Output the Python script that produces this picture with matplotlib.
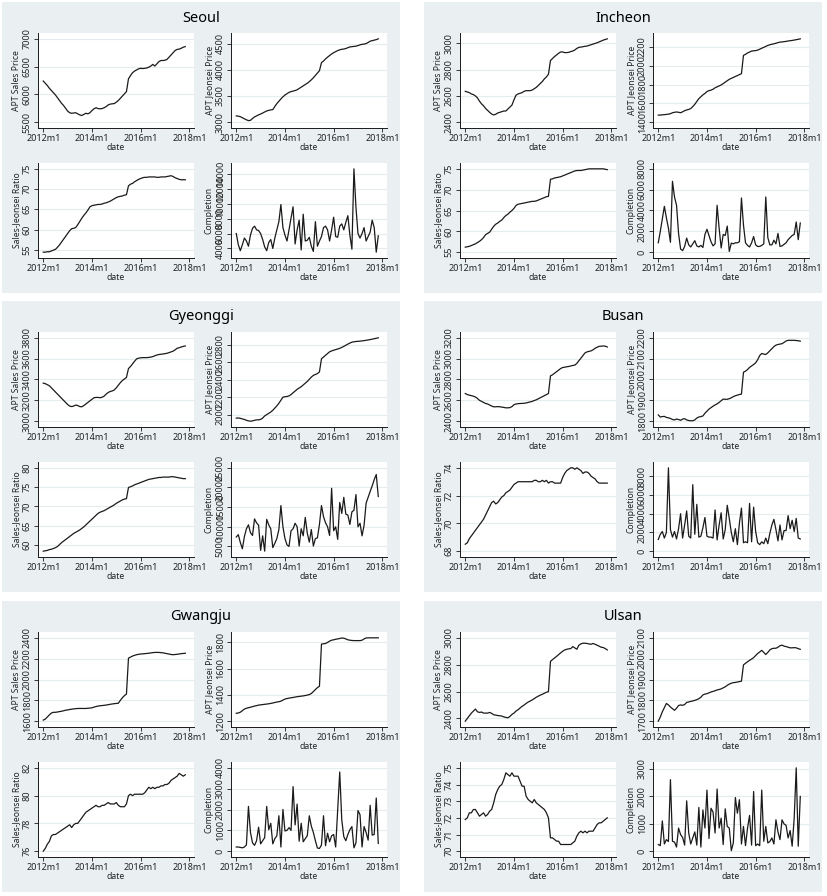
import numpy as np
import matplotlib.pyplot as plt
from matplotlib.patches import Rectangle

plt.rcParams['font.family'] = ['Noto Sans', 'DejaVu Sans']

# monthly data, 2012m1 .. 2017m11
months = np.arange(71)
tick_months = [0, 24, 48, 72]
tick_labels = ["2012m1", "2014m1", "2016m1", "2018m1"]
regions = ["Seoul", "Incheon", "Gyeonggi", "Busan", "Gwangju", "Ulsan"]
ylabels = ["APT Sales Price", "APT Jeonsei Price", "Sales-Jeonsei Ratio", "Completion"]

seoul_sales = [6240, 6200, 6160, 6110, 6070, 6030, 5990, 5940, 5890, 5840,
               5800, 5750, 5700, 5670, 5660, 5665, 5670, 5650, 5630, 5620,
               5640, 5660, 5650, 5670, 5710, 5740, 5760, 5745, 5740, 5745,
               5760, 5780, 5810, 5825, 5830, 5835, 5860, 5890, 5930, 5970,
               6010, 6050, 6280, 6340, 6390, 6420, 6440, 6460, 6470, 6465,
               6470, 6475, 6490, 6510, 6540, 6510, 6550, 6590, 6610, 6610,
               6615, 6630, 6670, 6710, 6750, 6790, 6810, 6815, 6830, 6850,
               6860]
seoul_jeonse = [3120, 3115, 3105, 3085, 3065, 3045, 3030, 3035, 3070, 3100,
                3120, 3140, 3155, 3175, 3195, 3215, 3225, 3235, 3240, 3300,
                3355, 3400, 3445, 3485, 3520, 3545, 3570, 3585, 3595, 3605,
                3620, 3645, 3670, 3695, 3720, 3745, 3775, 3810, 3850, 3895,
                3940, 3985, 4140, 4170, 4210, 4245, 4275, 4305, 4330, 4350,
                4370, 4385, 4395, 4400, 4410, 4425, 4440, 4445, 4450, 4455,
                4465, 4480, 4490, 4495, 4505, 4525, 4550, 4560, 4570, 4580,
                4595]
seoul_ratio = [54.4, 54.4, 54.5, 54.5, 54.7, 54.9, 55.1, 55.6, 56.2, 56.9,
               57.6, 58.3, 59.0, 59.7, 60.2, 60.3, 60.5, 61.2, 62.0, 62.8,
               63.5, 64.1, 64.8, 65.6, 65.9, 66.0, 66.1, 66.2, 66.2, 66.3,
               66.5, 66.6, 66.8, 67.0, 67.3, 67.6, 67.9, 68.1, 68.2, 68.3,
               68.5, 68.6, 70.8, 71.2, 71.4, 71.8, 72.1, 72.4, 72.6, 72.8,
               72.9, 72.9, 73.0, 73.0, 73.0, 73.0, 72.9, 72.9, 73.0, 73.0,
               73.0, 73.1, 73.2, 73.3, 73.1, 72.8, 72.6, 72.4, 72.3, 72.3,
               72.3]
seoul_compl = [6000, 4500, 3700, 4500, 5400, 5000, 4300, 5800, 6700, 7000,
               6500, 6400, 6000, 5200, 4200, 3700, 4800, 5200, 4000, 5400,
               6500, 7600, 9900, 6800, 5800, 5000, 6500, 8100, 9600, 4600,
               6500, 7800, 3800, 8600, 5000, 5100, 5500, 4300, 3600, 7600,
               4300, 5000, 5600, 6800, 7000, 6500, 5000, 6500, 8200, 5600,
               5500, 7000, 7300, 6500, 7500, 8400, 5800, 3900, 14700, 9500,
               6000, 5400, 6000, 6800, 5000, 5600, 6200, 7800, 6800, 3500,
               5700]

incheon_sales = [2635, 2630, 2625, 2615, 2610, 2600, 2585, 2560, 2540, 2525,
                 2505, 2490, 2475, 2462, 2455, 2460, 2470, 2475, 2480, 2485,
                 2485, 2500, 2515, 2530, 2570, 2605, 2615, 2620, 2625, 2635,
                 2640, 2640, 2640, 2645, 2655, 2665, 2680, 2695, 2710, 2730,
                 2745, 2765, 2870, 2885, 2900, 2912, 2925, 2935, 2935, 2930,
                 2930, 2932, 2938, 2942, 2950, 2962, 2970, 2972, 2975, 2978,
                 2980, 2985, 2990, 2995, 3000, 3005, 3012, 3018, 3025, 3030,
                 3035]
incheon_jeonse = [1475, 1475, 1478, 1480, 1482, 1485, 1490, 1500, 1505, 1508,
                  1505, 1500, 1510, 1522, 1530, 1535, 1545, 1565, 1590, 1620,
                  1650, 1670, 1690, 1705, 1725, 1735, 1740, 1750, 1765, 1775,
                  1785, 1795, 1810, 1825, 1840, 1855, 1865, 1875, 1885, 1895,
                  1905, 1915, 2110, 2120, 2135, 2145, 2155, 2158, 2160, 2165,
                  2175, 2185, 2195, 2205, 2215, 2222, 2228, 2232, 2238, 2245,
                  2250, 2252, 2255, 2258, 2262, 2265, 2268, 2272, 2276, 2280,
                  2285]
incheon_ratio = [56.2, 56.3, 56.4, 56.6, 56.8, 57.0, 57.3, 57.6, 58.0, 58.5,
                 59.2, 59.5, 59.8, 60.5, 61.2, 61.7, 62.0, 62.4, 62.7, 63.3,
                 63.8, 64.1, 64.6, 65.0, 65.5, 66.2, 66.5, 66.6, 66.7, 66.8,
                 66.9, 67.0, 67.1, 67.2, 67.2, 67.3, 67.5, 67.7, 67.9, 68.1,
                 68.3, 68.4, 72.5, 72.6, 72.8, 72.9, 73.0, 73.1, 73.3, 73.5,
                 73.7, 73.9, 74.1, 74.3, 74.5, 74.6, 74.6, 74.6, 74.7, 74.8,
                 74.9, 75.0, 75.0, 75.0, 75.0, 75.0, 75.0, 75.0, 75.0, 74.9,
                 74.8]
incheon_compl = [900, 2000, 3200, 4400, 3300, 2300, 950, 6800, 5300, 4500,
                 1800, 300, 150, 550, 1350, 700, 500, 800, 1100, 600,
                 500, 650, 450, 1700, 2200, 1600, 1000, 600, 800, 4500,
                 2300, 400, 1700, 1600, 2500, 70, 870, 800, 900, 900,
                 1000, 5200, 2600, 900, 650, 500, 900, 1500, 700, 550,
                 550, 650, 800, 5300, 1400, 700, 700, 1150, 800, 1800,
                 550, 600, 750, 900, 1200, 1400, 1600, 1700, 2900, 1200,
                 2800]

gyeonggi_sales = [3365, 3360, 3350, 3340, 3320, 3300, 3280, 3260, 3240, 3220,
                  3200, 3180, 3160, 3145, 3140, 3145, 3155, 3150, 3140, 3138,
                  3150, 3165, 3180, 3195, 3210, 3225, 3228, 3228, 3225, 3230,
                  3240, 3260, 3275, 3285, 3290, 3300, 3320, 3345, 3370, 3390,
                  3405, 3420, 3505, 3525, 3550, 3575, 3598, 3605, 3608, 3610,
                  3610, 3610, 3612, 3615, 3620, 3628, 3635, 3640, 3642, 3645,
                  3648, 3652, 3658, 3665, 3672, 3685, 3700, 3705, 3712, 3718,
                  3722]
gyeonggi_jeonse = [1960, 1962, 1958, 1950, 1945, 1935, 1928, 1925, 1928, 1935,
                   1940, 1940, 1945, 1960, 1985, 2000, 2015, 2030, 2050, 2075,
                   2100, 2130, 2165, 2200, 2205, 2208, 2215, 2230, 2250, 2270,
                   2290, 2305, 2320, 2340, 2360, 2380, 2405, 2430, 2450, 2460,
                   2470, 2490, 2640, 2660, 2680, 2700, 2720, 2730, 2738, 2745,
                   2752, 2760, 2770, 2782, 2795, 2808, 2820, 2830, 2835, 2838,
                   2840, 2842, 2845, 2848, 2852, 2856, 2860, 2865, 2870, 2875,
                   2880]
gyeonggi_ratio = [58.4, 58.5, 58.6, 58.8, 58.9, 59.1, 59.3, 59.6, 60.1, 60.6,
                  61.0, 61.4, 61.8, 62.2, 62.6, 63.0, 63.3, 63.6, 63.9, 64.3,
                  64.7, 65.2, 65.7, 66.2, 66.7, 67.2, 67.7, 68.2, 68.5, 68.7,
                  68.9, 69.2, 69.5, 69.8, 70.1, 70.4, 70.8, 71.1, 71.4, 71.7,
                  71.9, 72.0, 74.9, 75.1, 75.3, 75.6, 75.8, 76.0, 76.2, 76.4,
                  76.6, 76.8, 77.0, 77.1, 77.2, 77.3, 77.4, 77.5, 77.5, 77.6,
                  77.6, 77.6, 77.6, 77.7, 77.7, 77.6, 77.5, 77.4, 77.3, 77.2,
                  77.2]
gyeonggi_compl = [7400, 8000, 6000, 4400, 7500, 9500, 10500, 8500, 7800, 12000,
                  11000, 10400, 4000, 7700, 3800, 11900, 10500, 9500, 4700, 5800,
                  7000, 9300, 15400, 10000, 7000, 5400, 5000, 9000, 9500, 10900,
                  10000, 5100, 9500, 7700, 12400, 8400, 6100, 9300, 5100, 7000,
                  7200, 10600, 15400, 12600, 11000, 10000, 7800, 19800, 9000, 10000,
                  6800, 16200, 13400, 17500, 13200, 13000, 10600, 13800, 14200, 18200,
                  10000, 10900, 7700, 10400, 16000, 17500, 19000, 20400, 22000, 23300,
                  17700]

busan_sales = [2665, 2655, 2650, 2645, 2640, 2632, 2618, 2600, 2590, 2580,
               2570, 2565, 2555, 2545, 2538, 2538, 2540, 2538, 2535, 2532,
               2528, 2528, 2530, 2540, 2558, 2565, 2568, 2570, 2570, 2572,
               2575, 2580, 2585, 2590, 2598, 2605, 2615, 2625, 2635, 2645,
               2655, 2665, 2835, 2845, 2860, 2875, 2890, 2905, 2915, 2918,
               2922, 2925, 2930, 2935, 2938, 2955, 2980, 3005, 3030, 3055,
               3065, 3070, 3075, 3085, 3100, 3110, 3118, 3120, 3122, 3120,
               3112]
busan_jeonse = [1830, 1820, 1822, 1823, 1818, 1816, 1813, 1808, 1806, 1810,
                1808, 1804, 1810, 1812, 1806, 1803, 1802, 1802, 1806, 1815,
                1820, 1822, 1825, 1838, 1848, 1858, 1865, 1872, 1878, 1883,
                1890, 1898, 1906, 1905, 1905, 1908, 1912, 1918, 1922, 1925,
                1928, 1930, 2035, 2040, 2048, 2058, 2065, 2072, 2080, 2095,
                2115, 2125, 2122, 2120, 2128, 2138, 2148, 2158, 2165, 2168,
                2170, 2172, 2178, 2185, 2188, 2188, 2188, 2188, 2187, 2186,
                2184]
busan_ratio = [68.5, 68.6, 68.9, 69.1, 69.3, 69.5, 69.7, 69.9, 70.1, 70.3,
               70.6, 70.9, 71.2, 71.5, 71.6, 71.4, 71.5, 71.7, 71.9, 72.0,
               72.2, 72.3, 72.4, 72.6, 72.8, 72.9, 73.0, 73.0, 73.0, 73.0,
               73.0, 73.0, 73.0, 73.0, 73.1, 73.1, 73.0, 73.0, 73.1, 73.0,
               73.1, 72.9, 73.0, 73.0, 72.9, 72.9, 72.9, 72.9, 73.3, 73.6,
               73.8, 73.9, 74.0, 74.0, 73.9, 74.0, 73.9, 73.8, 73.6, 73.7,
               73.7, 73.6, 73.4, 73.3, 73.2, 73.0, 72.9, 72.9, 72.9, 72.9,
               72.9]
busan_compl = [1250, 1800, 2100, 1400, 2000, 8900, 2300, 1500, 2100, 1300,
               2400, 4000, 1400, 2800, 4300, 1600, 1400, 7100, 1800, 5000,
               1500, 1600, 2500, 3600, 1600, 1500, 1500, 1400, 4400, 1200,
               2800, 4100, 1300, 2300, 4900, 3500, 2000, 1000, 2400, 700,
               3000, 4600, 900, 1000, 900, 5100, 1000, 4700, 2100, 900,
               700, 1000, 800, 1400, 800, 1900, 2800, 3400, 2300, 1100,
               2800, 1200, 2200, 2200, 3800, 2400, 3300, 2100, 3500, 1400,
               1300]

gwangju_sales = [1610, 1620, 1640, 1660, 1678, 1685, 1685, 1688, 1692, 1695,
                 1700, 1705, 1708, 1712, 1715, 1718, 1720, 1722, 1722, 1722,
                 1722, 1722, 1724, 1726, 1728, 1735, 1740, 1745, 1748, 1750,
                 1752, 1755, 1758, 1762, 1765, 1768, 1770, 1772, 1800, 1825,
                 1845, 1860, 2205, 2215, 2225, 2232, 2238, 2242, 2245, 2246,
                 2248, 2250, 2252, 2255, 2258, 2260, 2260, 2260, 2258, 2256,
                 2252, 2248, 2244, 2240, 2238, 2240, 2242, 2245, 2248, 2250,
                 2252]
gwangju_jeonse = [1260, 1262, 1268, 1280, 1292, 1298, 1302, 1306, 1310, 1315,
                  1318, 1322, 1324, 1326, 1328, 1330, 1332, 1335, 1338, 1342,
                  1345, 1348, 1352, 1360, 1368, 1372, 1375, 1378, 1380, 1383,
                  1386, 1388, 1390, 1392, 1395, 1398, 1402, 1410, 1425, 1440,
                  1455, 1465, 1785, 1788, 1790, 1798, 1808, 1815, 1818, 1822,
                  1825, 1828, 1832, 1830, 1825, 1818, 1815, 1813, 1812, 1812,
                  1812, 1812, 1815, 1825, 1832, 1833, 1833, 1833, 1833, 1833,
                  1833]
gwangju_ratio = [76.0, 76.2, 76.5, 76.7, 77.1, 77.2, 77.2, 77.3, 77.4, 77.5,
                 77.6, 77.7, 77.8, 77.9, 77.7, 77.9, 78.0, 78.0, 78.2, 78.4,
                 78.6, 78.8, 78.9, 79.0, 79.1, 79.2, 79.3, 79.2, 79.2, 79.3,
                 79.3, 79.4, 79.5, 79.4, 79.4, 79.4, 79.5, 79.3, 79.2, 79.2,
                 79.2, 79.4, 80.0, 80.1, 80.0, 80.1, 80.1, 80.1, 80.1, 80.1,
                 80.2, 80.4, 80.6, 80.5, 80.6, 80.5, 80.6, 80.6, 80.7, 80.7,
                 80.8, 80.8, 80.9, 81.1, 81.2, 81.3, 81.4, 81.6, 81.5, 81.4,
                 81.5]
gwangju_compl = [200, 200, 180, 160, 200, 300, 2150, 900, 400, 280,
                 500, 1150, 350, 500, 650, 2150, 1030, 1340, 350, 600,
                 740, 1700, 200, 2000, 970, 1000, 1130, 1000, 3100, 1260,
                 2260, 480, 1340, 450, 600, 740, 1700, 1200, 900, 500,
                 150, 130, 300, 1700, 260, 860, 450, 740, 800, 200,
                 2000, 3800, 1500, 700, 500, 800, 1030, 1180, 160, 400,
                 1950, 1750, 200, 1180, 900, 530, 2200, 770, 800, 2550,
                 370]

ulsan_sales = [2380, 2400, 2420, 2440, 2455, 2470, 2450, 2445, 2448, 2440,
               2440, 2440, 2445, 2438, 2428, 2425, 2422, 2420, 2418, 2412,
               2408, 2405, 2415, 2430, 2440, 2455, 2465, 2478, 2490, 2500,
               2512, 2522, 2530, 2538, 2548, 2558, 2566, 2574, 2580, 2588,
               2595, 2600, 2825, 2838, 2850, 2862, 2875, 2888, 2900, 2910,
               2915, 2918, 2920, 2935, 2925, 2915, 2945, 2955, 2960, 2960,
               2958, 2955, 2952, 2958, 2952, 2945, 2938, 2930, 2928, 2920,
               2910]
ulsan_jeonse = [1700, 1720, 1745, 1765, 1785, 1778, 1768, 1760, 1752, 1762,
                1775, 1778, 1776, 1780, 1790, 1792, 1795, 1797, 1800, 1803,
                1808, 1815, 1826, 1830, 1832, 1836, 1840, 1843, 1846, 1850,
                1852, 1855, 1860, 1865, 1872, 1878, 1882, 1885, 1886, 1888,
                1890, 1892, 1970, 1978, 1985, 1992, 1998, 2005, 2015, 2025,
                2032, 2040, 2030, 2020, 2030, 2042, 2048, 2050, 2050, 2055,
                2062, 2065, 2060, 2058, 2055, 2052, 2052, 2053, 2052, 2048,
                2045]
ulsan_ratio = [71.9, 72.0, 72.3, 72.3, 72.5, 72.5, 72.3, 72.1, 72.2, 72.3,
               72.1, 72.2, 72.4, 72.5, 72.9, 73.4, 73.7, 73.9, 74.0, 74.3,
               74.7, 74.6, 74.5, 74.7, 74.5, 74.5, 74.5, 74.2, 73.9, 73.9,
               73.3, 73.1, 73.0, 72.9, 73.1, 72.9, 72.8, 72.7, 72.6, 72.5,
               72.3, 72.0, 70.8, 70.8, 70.7, 70.6, 70.6, 70.4, 70.4, 70.4,
               70.4, 70.4, 70.4, 70.5, 70.6, 70.9, 71.1, 71.2, 71.1, 71.2,
               71.1, 71.2, 71.2, 71.2, 71.4, 71.6, 71.7, 71.7, 71.8, 71.9,
               72.0]
ulsan_compl = [240, 200, 1100, 260, 420, 350, 2600, 360, 330, 150,
               840, 600, 500, 220, 1830, 660, 260, 480, 700, 220,
               1590, 150, 1500, 840, 2220, 460, 1560, 1420, 660, 2260,
               840, 1200, 240, 1540, 900, 840, 20, 300, 1950, 1380,
               1870, 260, 900, 200, 840, 1300, 220, 2170, 200, 260,
               200, 2220, 360, 900, 300, 350, 480, 260, 1140, 700,
               420, 1140, 990, 940, 480, 750, 180, 1200, 3030, 180,
               1990]

series = {
    "Seoul": [seoul_sales, seoul_jeonse, seoul_ratio, seoul_compl],
    "Incheon": [incheon_sales, incheon_jeonse, incheon_ratio, incheon_compl],
    "Gyeonggi": [gyeonggi_sales, gyeonggi_jeonse, gyeonggi_ratio, gyeonggi_compl],
    "Busan": [busan_sales, busan_jeonse, busan_ratio, busan_compl],
    "Gwangju": [gwangju_sales, gwangju_jeonse, gwangju_ratio, gwangju_compl],
    "Ulsan": [ulsan_sales, ulsan_jeonse, ulsan_ratio, ulsan_compl],
}
yticks = {
    "Seoul": [[5500, 6000, 6500, 7000], [3000, 3500, 4000, 4500],
              [55, 60, 65, 70, 75], [4000, 6000, 8000, 10000, 12000, 14000]],
    "Incheon": [[2400, 2600, 2800, 3000], [1400, 1600, 1800, 2000, 2200],
                [55, 60, 65, 70, 75], [0, 2000, 4000, 6000, 8000]],
    "Gyeonggi": [[3000, 3200, 3400, 3600, 3800], [2000, 2200, 2400, 2600, 2800],
                 [60, 65, 70, 75, 80], [5000, 10000, 15000, 20000, 25000]],
    "Busan": [[2400, 2600, 2800, 3000, 3200], [1800, 1900, 2000, 2100, 2200],
              [68, 70, 72, 74], [0, 2000, 4000, 6000, 8000]],
    "Gwangju": [[1600, 1800, 2000, 2200, 2400], [1200, 1400, 1600, 1800],
                [76, 78, 80, 82], [0, 1000, 2000, 3000, 4000]],
    "Ulsan": [[2400, 2600, 2800, 3000], [1700, 1800, 1900, 2000, 2100],
              [70, 71, 72, 73, 74, 75], [0, 1000, 2000, 3000]],
}

W, H = 827, 896
fig = plt.figure(figsize=(W / 100, H / 100), dpi=100)
fig.patch.set_facecolor("white")

panel_xy = {"Seoul": (2, 2), "Incheon": (424, 2), "Gyeonggi": (2, 301),
            "Busan": (424, 301), "Gwangju": (2, 601), "Ulsan": (424, 601)}
panel_w, panel_h = 398, 291
sub_xy = [(36, 31), (229, 31), (36, 161), (229, 161)]
sub_w, sub_h = 156, 95

bg = "#eaf0f2"
grid_c = "#e4ecef"
ink = "#1a1a1a"


def frac(x, y, w, h):
    return [x / W, 1 - (y + h) / H, w / W, h / H]


for reg in regions:
    px, py = panel_xy[reg]
    r = frac(px, py, panel_w, panel_h)
    fig.add_artist(Rectangle((r[0], r[1]), r[2], r[3], transform=fig.transFigure,
                             facecolor=bg, edgecolor="none", zorder=-5))
    fig.text((px + panel_w / 2) / W, 1 - (py + 16) / H, reg, ha="center", va="center",
             fontsize=10.5, color="black")
    for k in range(4):
        sx, sy = sub_xy[k]
        ax = fig.add_axes(frac(px + sx, py + sy, sub_w, sub_h))
        y = series[reg][k]
        t = yticks[reg][k]
        ax.plot(months, y, color=ink, lw=0.9)
        lo = min(t[0], min(y))
        hi = max(t[-1], max(y))
        pad = 0.07 * (hi - lo)
        ax.set_ylim(lo - pad, hi + pad)
        ax.set_xlim(-2.6, 74.3)
        ax.set_yticks(t)
        ax.set_yticklabels([str(v) for v in t], rotation=90, va="center")
        ax.set_xticks(tick_months)
        ax.set_xticklabels(tick_labels)
        ax.set_facecolor("white")
        ax.grid(axis="y", color=grid_c, lw=0.8)
        ax.set_axisbelow(True)
        for s in ["top", "right"]:
            ax.spines[s].set_visible(False)
        for s in ["left", "bottom"]:
            ax.spines[s].set_color(ink)
            ax.spines[s].set_linewidth(0.7)
        ax.tick_params(length=3, width=0.6, color=ink, labelsize=6.5,
                       labelcolor="#222222", pad=1.5)
        ax.set_xlabel("date", fontsize=6.2, labelpad=0, color="#222222")
        ax.set_ylabel(ylabels[k], fontsize=6.2, labelpad=1.5, color="#222222")

fig.savefig("out.png", dpi=100, facecolor="white")
